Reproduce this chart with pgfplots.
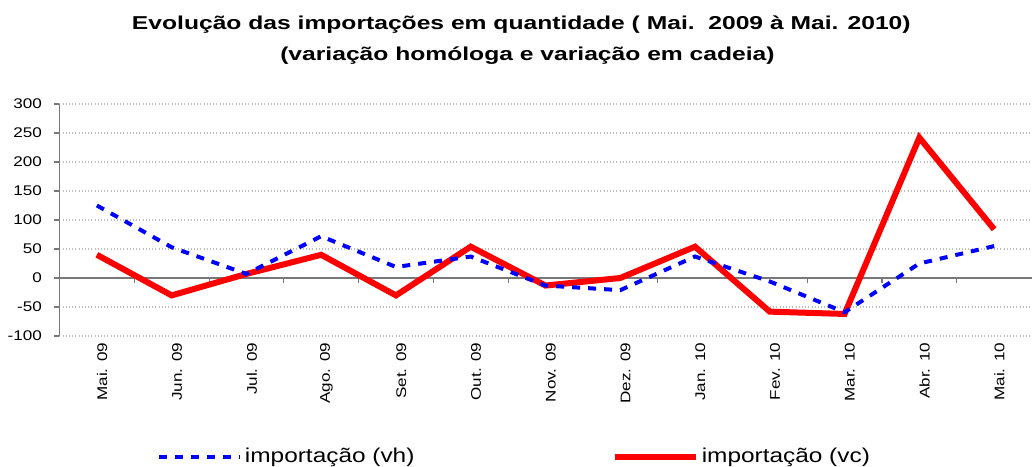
\documentclass[border=0pt]{standalone}
\usepackage{pgfplots}
\pgfplotsset{compat=1.18}
\usepackage{fontspec}
\setmainfont{Liberation Sans}
\newcommand\sx[1]{\scalebox{1.22}[1]{#1}}
\newcommand\tx[1]{\scalebox{1.32}[1]{#1}}
\definecolor{gridgray}{RGB}{190,190,190}
\definecolor{axgray}{RGB}{120,120,120}

\begin{document}
\begin{tikzpicture}
\useasboundingbox (0,0) rectangle (774pt,350.25pt);
\begin{axis}[
  at={(44.625pt,98.25pt)}, anchor=south west,
  scale only axis, width=729pt, height=174pt,
  xmin=-0.5, xmax=12.5, ymin=-100, ymax=300,
  separate axis lines,
  axis x line*=bottom, axis y line*=left,
  x axis line style={draw=none},
  y axis line style={draw=axgray, line width=0.8pt},
  xtick={0,...,12},
  xticklabels={\sx{Mai. 09},\sx{Jun. 09},\sx{Jul. 09},\sx{Ago. 09},\sx{Set. 09},\sx{Out. 09},\sx{Nov. 09},\sx{Dez. 09},\sx{Jan. 10},\sx{Fev. 10},\sx{Mar. 10},\sx{Abr. 10},\sx{Mai. 10}},
  xticklabel style={rotate=90, anchor=east, font=\fontsize{10.5pt}{12pt}\selectfont, inner sep=1pt, yshift=-4pt},
  x tick style={draw=none},
  ytick={-100,-50,...,300},
  yticklabels={\sx{-100},\sx{-50},\sx{0},\sx{50},\sx{100},\sx{150},\sx{200},\sx{250},\sx{300}},
  yticklabel style={font=\fontsize{10.5pt}{12pt}\selectfont, inner sep=1pt, xshift=-8pt},
  y tick style={draw=axgray, line width=0.8pt},
  tick align=outside, major tick length=4pt,
  ymajorgrids, grid style={gridgray, dotted, line width=0.9pt},
  clip=false,
  reverse legend,
  legend columns=2,
  legend style={at={(axis description cs:0.1,-0.52)}, anchor=west, draw=none, fill=none, inner sep=0pt,
    font=\fontsize{15pt}{18pt}\selectfont,
    /tikz/every even column/.append style={column sep=146pt}},
  legend image code/.code={\draw[#1] (0pt,0pt) -- (61pt,0pt);},
]
\draw[axgray, line width=0.8pt] (axis cs:-0.5,0) -- (axis cs:12.5,0);
\pgfplotsinvokeforeach{0.5,1.5,2.5,3.5,4.5,5.5,6.5,7.5,8.5,9.5,10.5,11.5}{
  \draw[axgray, line width=0.8pt] (axis cs:#1,0) -- ([yshift=-4pt]axis cs:#1,0);
}
\addplot[red, line width=4.5pt] coordinates {
(0,40) (1,-30) (2,7) (3,40) (4,-30) (5,54) (6,-13) (7,0) (8,54) (9,-58) (10,-62) (11,242) (12,84)};
\addlegendentry{\sx{importação (vc)}}
\addplot[blue, line width=3pt, dash pattern=on 6pt off 6pt] coordinates {
(0,125) (1,53) (2,7) (3,72) (4,19) (5,37) (6,-13) (7,-21) (8,37) (9,-6) (10,-59) (11,25) (12,55)};
\addlegendentry{\sx{importação (vh)}}
\end{axis}
\node[font=\bfseries\fontsize{14pt}{17pt}\selectfont] at (391pt,331.5pt) {\tx{Evolução das importações em quantidade ( Mai.\ \ 2009 à Mai. 2010)}};
\node[font=\bfseries\fontsize{14pt}{17pt}\selectfont] at (395.6pt,308.25pt) {\tx{(variação homóloga e variação em cadeia)}};
\end{tikzpicture}
\end{document}
